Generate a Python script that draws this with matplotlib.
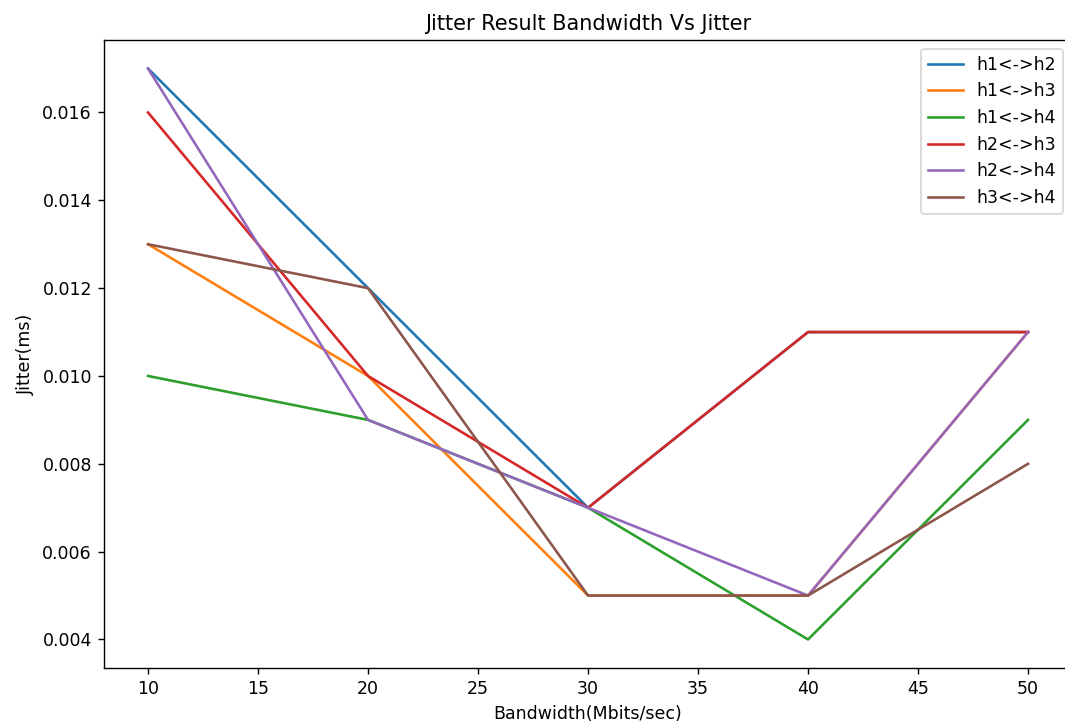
import matplotlib
matplotlib.use("Agg")
import matplotlib.pyplot as plt

bandwidth = [10, 20, 30, 40, 50]
h1_h2 = [0.017, 0.012, 0.007, 0.011, 0.011]
h1_h3 = [0.013, 0.010, 0.005, 0.005, 0.011]
h1_h4 = [0.010, 0.009, 0.007, 0.004, 0.009]
h2_h3 = [0.016, 0.010, 0.007, 0.011, 0.011]
h2_h4 = [0.017, 0.009, 0.007, 0.005, 0.011]
h3_h4 = [0.013, 0.012, 0.005, 0.005, 0.008]
labels = ["h1<->h2", "h1<->h3", "h1<->h4", "h2<->h3", "h2<->h4", "h3<->h4"]

# rendered at 125 dpi so text and lines come out a bit heavier;
# the reference crops off the right spine, so the axes run past the edge
fig, ax = plt.subplots(figsize=(8.52, 5.824), dpi=125)
fig.subplots_adjust(left=0.0977, right=1.0066, top=0.945, bottom=0.0824)

for series, lab in zip([h1_h2, h1_h3, h1_h4, h2_h3, h2_h4, h3_h4], labels):
    ax.plot(bandwidth, series, label=lab)

ax.spines["right"].set_visible(False)
ax.set_title("Jitter Result Bandwidth Vs Jitter")
ax.set_xlabel("Bandwidth(Mbits/sec)")
ax.set_ylabel("Jitter(ms)")
ax.legend(loc="upper right")

fig.savefig("out.png", dpi=125)
